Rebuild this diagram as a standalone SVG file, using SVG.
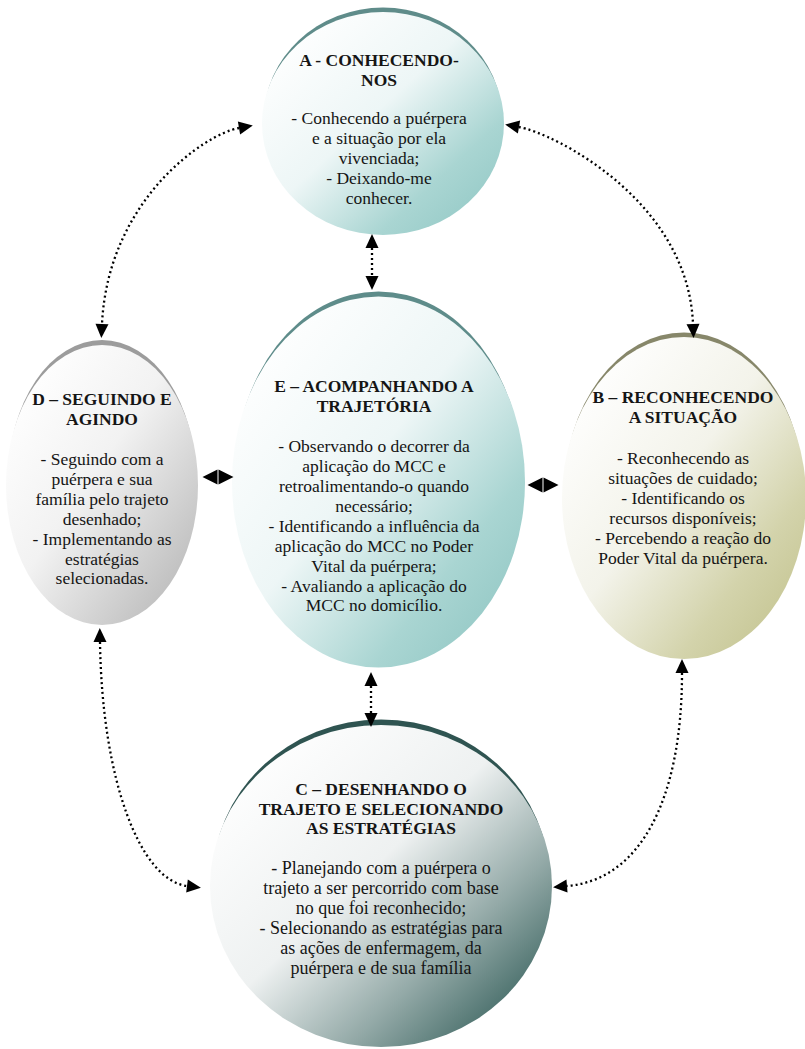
<svg xmlns="http://www.w3.org/2000/svg" width="805" height="1049" viewBox="0 0 805 1049">
  <defs>
    <linearGradient id="gA" x1="0.1" y1="0.1" x2="0.9" y2="0.9">
      <stop offset="0" stop-color="#ffffff"/>
      <stop offset="0.45" stop-color="#edf6f6"/>
      <stop offset="0.8" stop-color="#a9d5d2"/>
      <stop offset="1" stop-color="#97cbc8"/>
    </linearGradient>
    <linearGradient id="gE" x1="0.1" y1="0.1" x2="0.9" y2="0.9">
      <stop offset="0" stop-color="#ffffff"/>
      <stop offset="0.45" stop-color="#edf6f6"/>
      <stop offset="0.8" stop-color="#a9d5d2"/>
      <stop offset="1" stop-color="#95c9c6"/>
    </linearGradient>
    <linearGradient id="gD" x1="0.1" y1="0.1" x2="0.9" y2="0.9">
      <stop offset="0" stop-color="#ffffff"/>
      <stop offset="0.45" stop-color="#f2f2f2"/>
      <stop offset="1" stop-color="#bcbcbc"/>
    </linearGradient>
    <linearGradient id="gB" x1="0.1" y1="0.1" x2="0.9" y2="0.9">
      <stop offset="0" stop-color="#ffffff"/>
      <stop offset="0.45" stop-color="#f3f3ea"/>
      <stop offset="0.8" stop-color="#d3d3ab"/>
      <stop offset="1" stop-color="#c6c694"/>
    </linearGradient>
    <linearGradient id="gC" x1="0.1" y1="0.1" x2="0.9" y2="0.9">
      <stop offset="0" stop-color="#ffffff"/>
      <stop offset="0.45" stop-color="#eef1f1"/>
      <stop offset="0.75" stop-color="#93a9a7"/>
      <stop offset="1" stop-color="#3f6763"/>
    </linearGradient>
    <marker id="tip" markerUnits="userSpaceOnUse" markerWidth="15" markerHeight="13" refX="0" refY="6.5" orient="auto-start-reverse" overflow="visible">
      <path d="M0,0 L14,6.5 L0,13 z" fill="#000"/>
    </marker>
    <marker id="tipW" markerUnits="userSpaceOnUse" markerWidth="16" markerHeight="15" refX="0" refY="7.5" orient="auto-start-reverse" overflow="visible">
      <path d="M0,0 L15,7.5 L0,15 z" fill="#000"/>
    </marker>
  </defs>
  <style>
    text { font-family: "Liberation Serif", "Times New Roman", serif; font-size: 17.5px; fill: #151515; text-anchor: middle; }
    .t { font-weight: bold; }
    .big { font-size: 18px; }
    .dot { fill: none; stroke: #000; stroke-width: 2.3; stroke-dasharray: 2 3; }
    .pair { fill: none; stroke: none; }
  </style>

  <!-- E: acompanhando a trajetória -->
  <g id="nodeE">
    <ellipse cx="378.5" cy="477" rx="144" ry="185.5" fill="#5e8c8a"/>
    <ellipse cx="378.5" cy="482" rx="146.5" ry="185.5" fill="url(#gE)"/>
    <text class="t" x="374" y="392">E – ACOMPANHANDO A</text>
    <text class="t" x="374" y="412">TRAJETÓRIA</text>
    <text x="374" y="452">- Observando o decorrer da</text>
    <text x="374" y="472">aplicação do MCC e</text>
    <text x="374" y="492">retroalimentando-o quando</text>
    <text x="374" y="512">necessário;</text>
    <text x="374" y="532">- Identificando a influência da</text>
    <text x="374" y="552">aplicação do MCC no Poder</text>
    <text x="374" y="572">Vital da puérpera;</text>
    <text x="374" y="592">- Avaliando a aplicação do</text>
    <text x="374" y="611">MCC no domicílio.</text>
  </g>

  <!-- A: conhecendo-nos -->
  <g id="nodeA">
    <ellipse cx="383" cy="119" rx="119" ry="111.5" fill="#5f8c8a"/>
    <ellipse cx="383" cy="123.5" rx="121" ry="111.5" fill="url(#gA)"/>
    <text class="t" x="379" y="66">A - CONHECENDO-</text>
    <text class="t" x="379" y="86">NOS</text>
    <text x="379" y="124">- Conhecendo a puérpera</text>
    <text x="379" y="144">e a situação por ela</text>
    <text x="379" y="164">vivenciada;</text>
    <text x="379" y="184">- Deixando-me</text>
    <text x="379" y="204">conhecer.</text>
  </g>

  <!-- D: seguindo e agindo -->
  <g id="nodeD">
    <ellipse cx="102" cy="480" rx="94" ry="140" fill="#9c9c9c"/>
    <ellipse cx="102" cy="485" rx="96" ry="140" fill="url(#gD)"/>
    <text class="t" x="102" y="405">D – SEGUINDO E</text>
    <text class="t" x="102" y="425">AGINDO</text>
    <text x="102" y="465">- Seguindo com a</text>
    <text x="102" y="485">puérpera e sua</text>
    <text x="102" y="505">família pelo trajeto</text>
    <text x="102" y="525">desenhado;</text>
    <text x="102" y="545">- Implementando as</text>
    <text x="102" y="565">estratégias</text>
    <text x="102" y="584">selecionadas.</text>
  </g>

  <!-- B: reconhecendo a situação -->
  <g id="nodeB">
    <ellipse cx="684" cy="493.5" rx="120" ry="161" fill="#87876a"/>
    <ellipse cx="684" cy="498" rx="122" ry="161" fill="url(#gB)"/>
    <text class="t" x="683" y="403">B – RECONHECENDO</text>
    <text class="t" x="683" y="423">A SITUAÇÃO</text>
    <text x="683" y="464">- Reconhecendo as</text>
    <text x="683" y="484">situações de cuidado;</text>
    <text x="683" y="504">- Identificando os</text>
    <text x="683" y="524">recursos disponíveis;</text>
    <text x="683" y="544">- Percebendo a reação do</text>
    <text x="683" y="564">Poder Vital da puérpera.</text>
  </g>

  <!-- C: desenhando o trajeto e selecionando as estratégias -->
  <g id="nodeC">
    <ellipse cx="381" cy="880.5" rx="168.5" ry="161" fill="#2f5451"/>
    <ellipse cx="381" cy="886" rx="171" ry="161" fill="url(#gC)"/>
    <text class="t" x="381" y="795">C – DESENHANDO O</text>
    <text class="t" x="381" y="815">TRAJETO E SELECIONANDO</text>
    <text class="t" x="381" y="834">AS ESTRATÉGIAS</text>
    <text class="big" x="381" y="874">- Planejando com a puérpera o</text>
    <text class="big" x="381" y="894">trajeto a ser percorrido com base</text>
    <text class="big" x="381" y="914">no que foi reconhecido;</text>
    <text class="big" x="381" y="934">- Selecionando as estratégias para</text>
    <text class="big" x="381" y="954">as ações de enfermagem, da</text>
    <text class="big" x="381" y="974">puérpera e de sua família</text>
  </g>

  <!-- two-way dotted connectors -->
  <g id="connectors">
    <path class="dot" d="M239,128 C205,134 108,200 102,324" marker-start="url(#tip)" marker-end="url(#tip)"/>
    <path class="dot" d="M519,127 C553,133 688,200 693,324" marker-start="url(#tip)" marker-end="url(#tip)"/>
    <path class="dot" d="M372,248 V276" marker-start="url(#tip)" marker-end="url(#tip)"/>
    <path class="dot" d="M371,686 V713" marker-start="url(#tip)" marker-end="url(#tip)"/>
    <path class="dot" d="M100,642 C102,780 140,880 187,886" marker-start="url(#tip)" marker-end="url(#tip)"/>
    <path class="dot" d="M682,673 C682,800 640,880 567,886" marker-start="url(#tip)" marker-end="url(#tip)"/>
    <path class="pair" d="M217.5,477 H218.5" marker-start="url(#tipW)" marker-end="url(#tipW)"/>
    <path class="pair" d="M542.5,485 H543.5" marker-start="url(#tipW)" marker-end="url(#tipW)"/>
  </g>
</svg>
